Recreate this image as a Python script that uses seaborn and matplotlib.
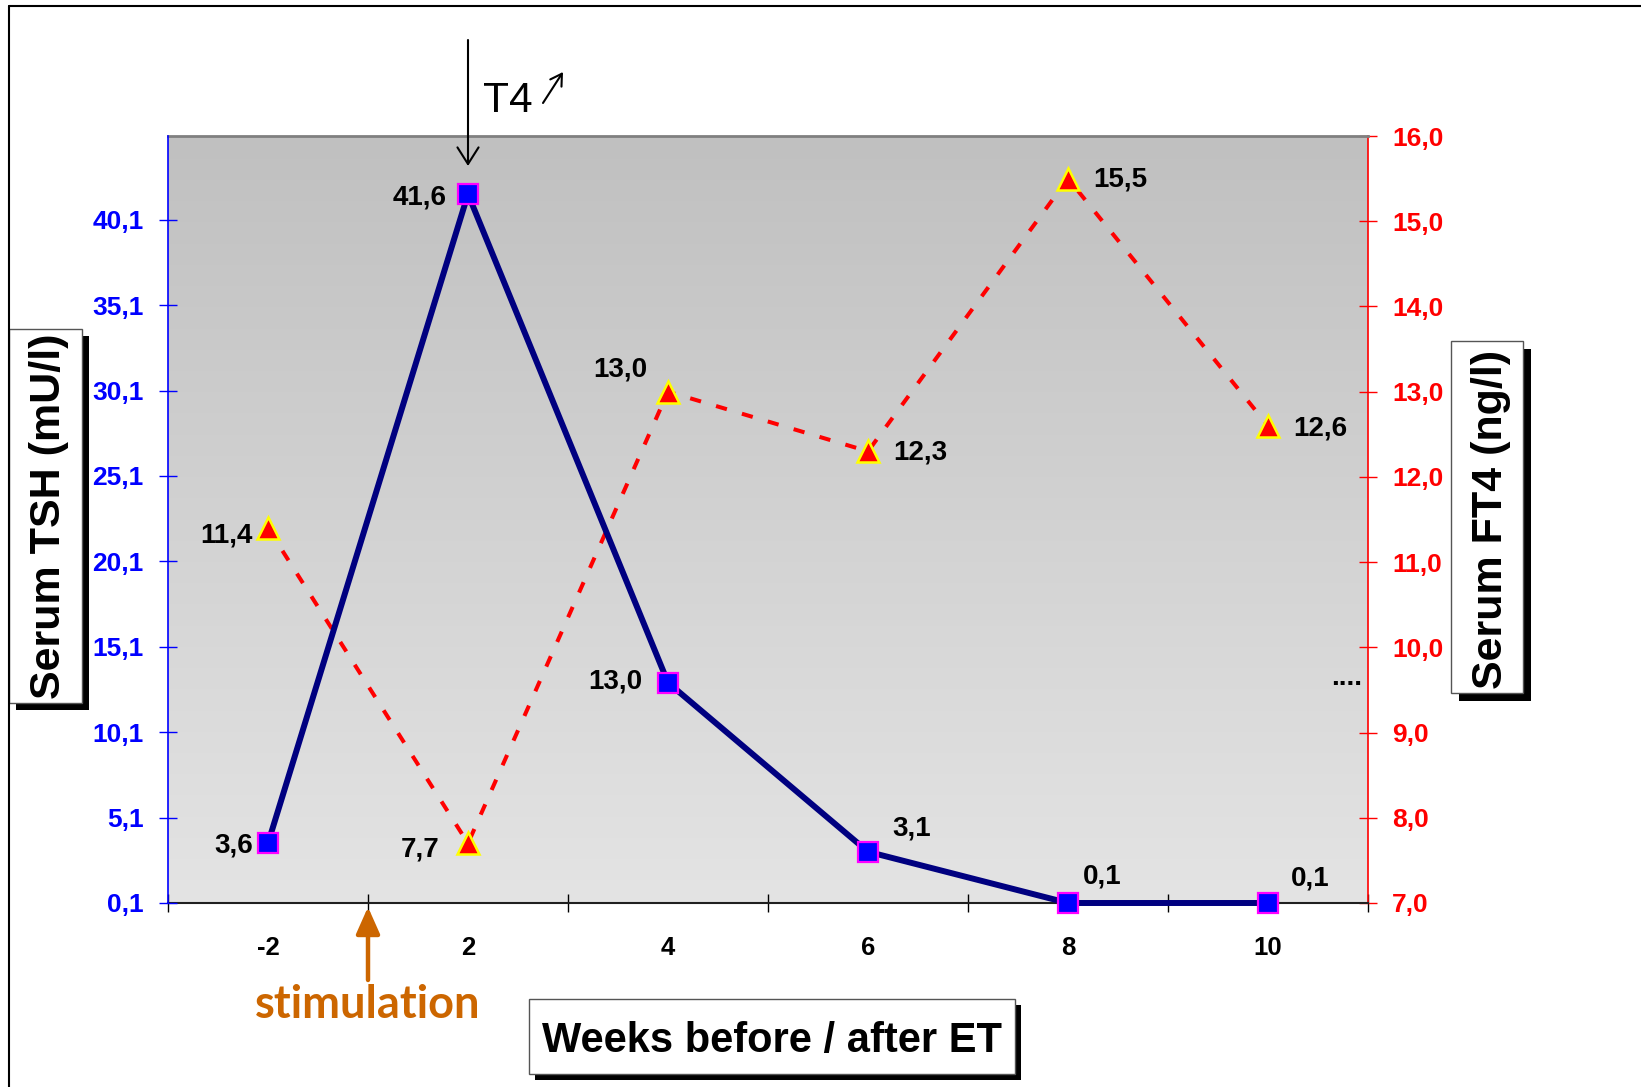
import numpy as np
import pandas as pd
import matplotlib
matplotlib.use("Agg")
import matplotlib.pyplot as plt
import seaborn as sns
from matplotlib.patches import Rectangle
from matplotlib.lines import Line2D
from matplotlib.colors import LinearSegmentedColormap

# ---------------- data ----------------
weeks = ["-2", "2", "4", "6", "8", "10"]
tsh = [3.6, 41.6, 13.0, 3.1, 0.1, 0.1]          # Serum TSH (mU/l)
ft4 = [11.4, 7.7, 13.0, 12.3, 15.5, 12.6]        # Serum FT4 (ng/l)
tsh_ticks = [0.1, 5.1, 10.1, 15.1, 20.1, 25.1, 30.1, 35.1, 40.1]
ft4_ticks = [7, 8, 9, 10, 11, 12, 13, 14, 15, 16]

# label placement (pixel offsets from the point: dx, dy-down, ha)
tsh_lab = [(-15, 9, "right"), (-21, 10, "right"), (-26, 6, "right"),
           (24, -16, "left"), (15, -19, "left"), (23, -17, "left")]
ft4_lab = [(-15, 14, "right"), (-28, 13, "right"), (-21, -15, "right"),
           (25, 8, "left"), (25, 8, "left"), (25, 10, "left")]

sns.set_theme(style="white")
plt.rcParams["font.family"] = ["Liberation Sans", "DejaVu Sans"]

W, H = 1641, 1087
fig = plt.figure(figsize=(W / 100, H / 100), dpi=100)
fig.patch.set_facecolor("white")

def fx(x):
    return x / W

def fy(y):
    return 1 - y / H

L, R, T, B = 168, 1368, 136, 903
ax = fig.add_axes([fx(L), fy(B), (R - L) / W, (B - T) / H])   # host: FT4 (right axis)
axT = ax.twinx()                                                # TSH (left axis), drawn on top

df = pd.DataFrame({"pos": np.arange(len(weeks)), "week": weeks, "tsh": tsh, "ft4": ft4})

# gradient background
grad = np.linspace(0, 1, 256).reshape(-1, 1)
cmap = LinearSegmentedColormap.from_list("g", ["#e4e4e4", "#c0c0c0"])
ax.imshow(grad, extent=[0, 1, 0, 1], transform=ax.transAxes, aspect="auto",
          cmap=cmap, origin="lower", zorder=0, interpolation="bilinear")

# FT4 series (red dashed, triangles)
sns.lineplot(data=df, x="pos", y="ft4", ax=ax, color="#ff0000", lw=2.9,
             linestyle=(0, (2.8, 3.9)), marker="^", markersize=16.5,
             markerfacecolor="#ff0000", markeredgecolor="#ffff00",
             markeredgewidth=1.8, zorder=3, clip_on=False)
# TSH series (navy line, blue squares)
sns.lineplot(data=df, x="pos", y="tsh", ax=axT, color="#000080", lw=4.3,
             marker="s", markersize=15, markerfacecolor="#0000ff",
             markeredgecolor="#ff00ff", markeredgewidth=1.6, zorder=3, clip_on=False)

ax.set_xlim(-0.5, len(weeks) - 0.5)
ax.set_ylim(7, 16)
axT.set_ylim(0.1, 45.0)

# axes positions
ax.yaxis.tick_right()
axT.yaxis.tick_left()

fs_tick = 19
# right axis (FT4)
ax.set_yticks(ft4_ticks)
ax.set_yticklabels([f"{v:.1f}".replace(".", ",") for v in ft4_ticks])
ax.tick_params(axis="y", which="major", right=True, left=False, direction="inout",
               length=13, width=1, color="#ff0000", labelcolor="#ff0000",
               labelsize=fs_tick, pad=11)
for t in ax.get_yticklabels():
    t.set_fontweight("bold")

# left axis (TSH)
axT.set_yticks(tsh_ticks)
axT.set_yticklabels([f"{v:.1f}".replace(".", ",") for v in tsh_ticks])
axT.tick_params(axis="y", which="major", left=True, right=False, direction="inout",
                length=13, width=1, color="#0000ff", labelcolor="#0000ff",
                labelsize=fs_tick, pad=11)
for t in axT.get_yticklabels():
    t.set_fontweight("bold")

# x axis: boundaries ticks, labels centred on categories
ax.set_xticks(np.arange(-0.5, len(weeks), 1.0))
ax.set_xticklabels([])
ax.set_xticks(np.arange(len(weeks)), minor=True)
ax.set_xticklabels(weeks, minor=True)
ax.tick_params(axis="x", which="major", bottom=True, direction="inout", length=13,
               width=1, color="black")
ax.tick_params(axis="x", which="minor", bottom=True, length=0, pad=24,
               labelsize=18.5, labelcolor="black")
for t in ax.get_xticklabels(minor=True):
    t.set_fontweight("bold")

ax.set_xlabel("")
ax.set_ylabel("")
axT.set_xlabel("")
axT.set_ylabel("")

# spines
ax.spines["left"].set_visible(False)
ax.spines["right"].set_color("#ff0000")
ax.spines["right"].set_linewidth(1.2)
ax.spines["top"].set_color("#808080")
ax.spines["top"].set_linewidth(2)
ax.spines["bottom"].set_color("#202020")
ax.spines["bottom"].set_linewidth(1.5)
for s in ["top", "bottom", "right"]:
    axT.spines[s].set_visible(False)
axT.spines["left"].set_color("#0000ff")
axT.spines["left"].set_linewidth(1.2)

# data labels
px2pt = 0.72
fs_lab = 20
for i, v in enumerate(tsh):
    dx, dy, ha = tsh_lab[i]
    axT.annotate(f"{v:.1f}".replace(".", ","), xy=(i, v), xytext=(dx * px2pt, -dy * px2pt),
                 textcoords="offset points", ha=ha, va="baseline", fontsize=fs_lab,
                 fontweight="bold", color="black", zorder=5, annotation_clip=False)
for i, v in enumerate(ft4):
    dx, dy, ha = ft4_lab[i]
    ax.annotate(f"{v:.1f}".replace(".", ","), xy=(i, v), xytext=(dx * px2pt, -dy * px2pt),
                textcoords="offset points", ha=ha, va="baseline", fontsize=fs_lab,
                fontweight="bold", color="black", zorder=5, annotation_clip=False)

# annotations: T4 arrow, stimulation arrow, dots
xt = ax.get_xaxis_transform()
axh = B - T
def yf(ypx):
    return (B - ypx) / axh

ax.annotate("", xy=(1, yf(166)), xycoords=xt, xytext=(1, yf(40)), textcoords=xt,
            arrowprops=dict(arrowstyle="->,head_length=0.6,head_width=0.38", color="black",
                            lw=1.5, shrinkA=0, shrinkB=0, mutation_scale=20),
            annotation_clip=False)
ax.text(1.075, yf(112), "T4", transform=xt, ha="left", va="baseline", fontsize=30.5,
        color="black", clip_on=False)
ax.annotate("", xy=(1.475, yf(72)), xycoords=xt, xytext=(1.375, yf(103)), textcoords=xt,
            arrowprops=dict(arrowstyle="->,head_length=0.5,head_width=0.3", color="black",
                            lw=1.5, shrinkA=0, shrinkB=0, mutation_scale=16),
            annotation_clip=False)

ax.annotate("", xy=(0.5, yf(907)), xycoords=xt, xytext=(0.5, yf(980)), textcoords=xt,
            arrowprops=dict(arrowstyle="-|>,head_length=0.9,head_width=0.4", color="#cc6600",
                            lw=3.2, shrinkA=0, shrinkB=0, mutation_scale=18),
            annotation_clip=False)
ax.text(0.5, yf(1018), "stimulation", transform=xt, ha="center", va="baseline",
        fontsize=32.5, fontweight="bold", color="#cc6600", family=["Lato", "DejaVu Sans"],
        clip_on=False)

ax.text(5.315, yf(685), "....", transform=xt, ha="left", va="baseline", fontsize=20,
        fontweight="bold", color="black", clip_on=False)

# boxed axis titles with shadows
def boxed(x0, y0, x1, y1, sh):
    fig.add_artist(Rectangle((fx(x0 + sh), fy(y1 + sh)), (x1 - x0) / W, (y1 - y0) / H,
                             transform=fig.transFigure, facecolor="black", edgecolor="black",
                             lw=0, zorder=1))
    fig.add_artist(Rectangle((fx(x0), fy(y1)), (x1 - x0) / W, (y1 - y0) / H,
                             transform=fig.transFigure, facecolor="white", edgecolor="#555555",
                             lw=1.0, zorder=2))

boxed(9, 329, 82, 703, 7)
fig.text(fx(60), fy(516), "Serum TSH (mU/l)", rotation=90, rotation_mode="anchor",
         ha="center", va="baseline", fontsize=31, fontweight="bold", color="black", zorder=3)
boxed(1451, 341, 1523, 693, 8)
fig.text(fx(1502), fy(519), "Serum FT4 (ng/l)", rotation=90, rotation_mode="anchor",
         ha="center", va="baseline", fontsize=31, fontweight="bold", color="black", zorder=3)
boxed(529, 999, 1015, 1074, 6)
fig.text(fx(772), fy(1052), "Weeks before / after ET", ha="center", va="baseline",
         fontsize=30, fontweight="bold", color="black", zorder=3)

# outer frame lines (top and left)
fig.add_artist(Line2D([fx(9), 1], [fy(6), fy(6)], transform=fig.transFigure, color="black", lw=1.5))
fig.add_artist(Line2D([fx(9), fx(9)], [fy(6), 0], transform=fig.transFigure, color="black", lw=1.5))

fig.savefig("out.png", dpi=100, facecolor="white")
